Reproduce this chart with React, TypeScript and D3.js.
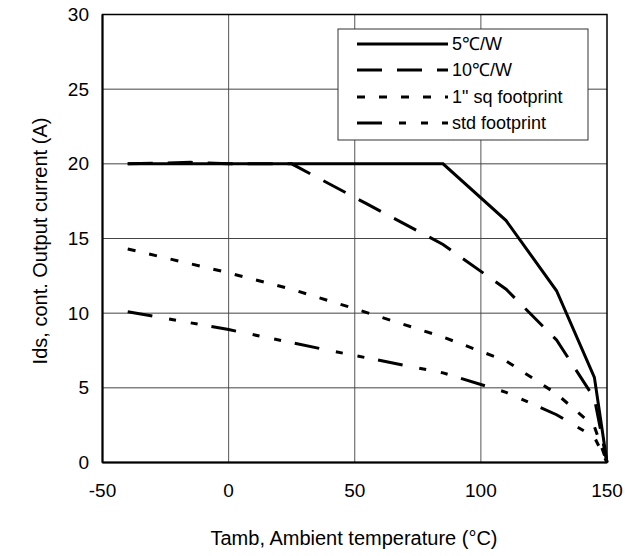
import React from "react";
import * as d3 from "d3";

const temps5 = [-40, 85, 110, 130, 145, 150];
const amps5 = [20, 20, 16.2, 11.5, 5.7, 0];

const temps10 = [-40, -15, 0, 25, 55, 85, 110, 130, 145, 150];
const amps10 = [20, 20.1, 20, 20, 17.3, 14.6, 11.6, 8.2, 4.3, 0];

const tempsSq = [-40, 0, 25, 50, 85, 110, 130, 145, 150];
const ampsSq = [14.3, 12.7, 11.6, 10.3, 8.4, 6.8, 4.6, 2.4, 0];

const tempsStd = [-40, 0, 40, 85, 110, 130, 145, 150];
const ampsStd = [10.1, 8.9, 7.5, 6.0, 4.7, 3.2, 1.7, 0];

const seriesNames = ["5℃/W", "10℃/W", "1\" sq footprint", "std footprint"];
const xTicks = [-50, 0, 50, 100, 150];
const yTicks = [0, 5, 10, 15, 20, 25, 30];

const dashes = ["none", "25,15", "8,14", "25,17,7,15,7,14"];

export default function App() {
  const W = 625, H = 556;
  const x = d3.scaleLinear().domain([-50, 150]).range([102.5, 607]);
  const y = d3.scaleLinear().domain([0, 30]).range([462.5, 14.5]);
  const line = d3.line<[number, number]>().x(d => x(d[0])).y(d => y(d[1]));
  const series = [
    temps5.map((t, i) => [t, amps5[i]] as [number, number]),
    temps10.map((t, i) => [t, amps10[i]] as [number, number]),
    tempsSq.map((t, i) => [t, ampsSq[i]] as [number, number]),
    tempsStd.map((t, i) => [t, ampsStd[i]] as [number, number]),
  ];
  const font = "Arial, 'Liberation Sans', sans-serif";
  const legX0 = 357, legX1 = 448, legRows = [44, 70, 97, 123];
  return (
    <svg width={W} height={H} style={{ position: "absolute", left: 0, top: 0, background: "#fff" }}>
      <rect x={0} y={0} width={W} height={H} fill="#fff" />
      {/* grid */}
      {xTicks.slice(1, -1).map(t => (
        <line key={"gx" + t} x1={x(t)} x2={x(t)} y1={y(30)} y2={y(0)} stroke="#555" strokeWidth={1} />
      ))}
      {yTicks.slice(1, -1).map(t => (
        <line key={"gy" + t} x1={x(-50)} x2={x(150)} y1={y(t)} y2={y(t)} stroke="#444" strokeWidth={1} />
      ))}
      {/* frame */}
      <rect x={x(-50)} y={y(30)} width={x(150) - x(-50)} height={y(0) - y(30)} fill="none" stroke="#000" strokeWidth={1.5} />
      <line x1={x(-50)} x2={x(-50)} y1={y(30)} y2={y(0)} stroke="#000" strokeWidth={2} />
      <line x1={x(-50)} x2={x(150)} y1={y(0)} y2={y(0)} stroke="#000" strokeWidth={2} />
      {/* series */}
      {series.map((s, i) => (
        <path key={"s" + i} d={line(s) || ""} fill="none" stroke="#000" strokeWidth={3} strokeDasharray={dashes[i]} strokeLinejoin="miter" />
      ))}
      {/* legend */}
      <rect x={338} y={29} width={250} height={111} fill="#fff" stroke="#333" strokeWidth={1} />
      {seriesNames.map((n, i) => (
        <g key={"l" + i}>
          <line x1={legX0} x2={legX1} y1={legRows[i]} y2={legRows[i]} stroke="#000" strokeWidth={3} strokeDasharray={dashes[i]} />
          <text x={legX1 + 4} y={legRows[i]} dy="0.35em" fontFamily={font} fontSize={18} fill="#000">{n}</text>
        </g>
      ))}
      {/* tick labels */}
      {xTicks.map(t => (
        <text key={"xt" + t} x={x(t)} y={490} dy="0.35em" textAnchor="middle" fontFamily={font} fontSize={19} fill="#000">{t}</text>
      ))}
      {yTicks.map(t => (
        <text key={"yt" + t} x={89} y={y(t)} dy="0.35em" textAnchor="end" fontFamily={font} fontSize={19} fill="#000">{t}</text>
      ))}
      {/* axis titles */}
      <text x={354} y={538} dy="0.35em" textAnchor="middle" fontFamily={font} fontSize={20} fill="#000">Tamb, Ambient temperature (°C)</text>
      <text transform={`translate(40,241) rotate(-90)`} dy="0.35em" textAnchor="middle" fontFamily={font} fontSize={20} fill="#000">Ids, cont. Output current (A)</text>
    </svg>
  );
}
